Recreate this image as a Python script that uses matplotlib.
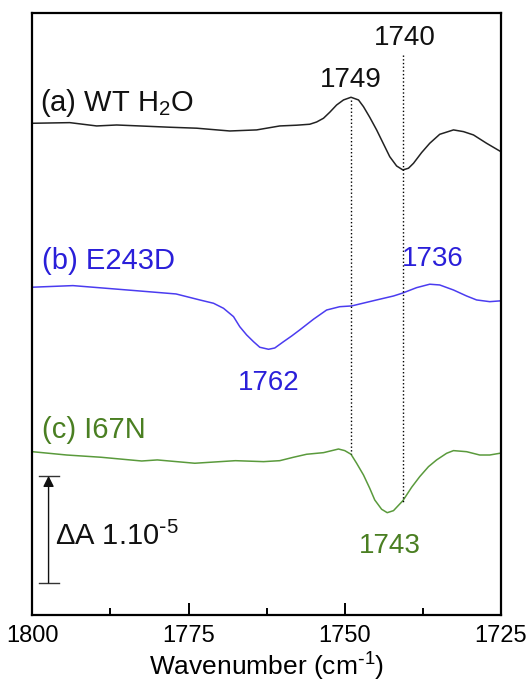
import matplotlib
matplotlib.use("Agg")
import matplotlib.pyplot as plt
import numpy as np

plt.rcParams['font.family'] = ['Liberation Sans', 'DejaVu Sans']
plt.rcParams['mathtext.default'] = 'regular'

# spectra: wavenumber (cm-1) and dA (x1e-6, relative to own baseline)
wn_a = [1800, 1794, 1789.7, 1786.5, 1782.8, 1778, 1773.7, 1768.4, 1764.1, 1760.4, 1757.7,
        1755.6, 1754.5, 1753.4, 1752.4, 1751.3, 1750.2, 1749.0, 1747.8, 1747.0, 1746.0,
        1744.9, 1743.8, 1742.8, 1741.7, 1740.7, 1739.8, 1739.0, 1737.7, 1736.4, 1734.8,
        1732.6, 1731.0, 1729.4, 1727.3, 1725.2]
da_a = [0.45, 0.51, 0.20, 0.29, 0.20, 0.08, -0.01, -0.27, -0.17, 0.20, 0.27,
        0.36, 0.57, 0.92, 1.48, 2.16, 2.63, 2.88, 2.63, 2.00, 1.01,
        -0.17, -1.48, -2.67, -3.54, -3.91, -3.75, -3.29, -2.29, -1.42, -0.58,
        -0.17, -0.33, -0.64, -1.42, -2.14]

wn_b = [1800, 1793.5, 1783.5, 1777, 1773.2, 1771.0, 1769.4, 1767.8, 1766.8, 1765.7,
        1764.6, 1763.6, 1762.2, 1761.2, 1759.8, 1758.5, 1757.2, 1755.0, 1752.9, 1750.8,
        1748.9, 1744.9, 1742.2, 1740.8, 1738.5, 1736.4, 1734.8, 1732.6, 1730.5, 1728.9,
        1726.8, 1725.2]
da_b = [1.13, 1.28, 0.81, 0.50, -0.06, -0.37, -0.84, -1.62, -2.56, -3.33,
        -3.96, -4.48, -4.67, -4.55, -3.96, -3.43, -2.86, -1.86, -1.00, -0.69,
        -0.62, -0.06, 0.31, 0.57, 1.09, 1.41, 1.34, 0.87, 0.31, -0.06,
        -0.22, -0.15]

wn_c = [1800, 1794.5, 1789, 1782.5, 1780, 1774, 1767.5, 1763, 1760.4, 1758.2,
        1756.1, 1753.4, 1751.0, 1750.0, 1749.0, 1748.1, 1747.0, 1746.0, 1745.2, 1744.1,
        1743.2, 1742.2, 1740.7, 1739.3, 1738.0, 1736.6, 1735.3, 1733.7, 1732.6, 1730.5,
        1728.4, 1726.8, 1725.2]
da_c = [0.76, 0.45, 0.24, -0.11, -0.01, -0.32, -0.08, -0.17, -0.08, 0.24,
        0.52, 0.67, 1.01, 0.86, 0.52, -0.32, -1.42, -2.66, -3.75, -4.62,
        -4.94, -4.75, -3.82, -2.57, -1.57, -0.64, -0.01, 0.61, 0.86, 0.76,
        0.45, 0.45, 0.61]

offsets = [45.5, 29.5, 14.5]
labels = ['(a) WT H$_2$O', '(b) E243D', '(c) I67N']
line_colors = ['#222222', '#4b3cf0', '#5a9a3c']
text_colors = ['#111111', '#2a1fd9', '#4a7f22']

fig = plt.figure(figsize=(5.28, 6.84), dpi=100)
ax = fig.add_axes([0.0612, 0.1009, 0.8876, 0.8797])

for wn, da, off, col in zip([wn_a, wn_b, wn_c], [da_a, da_b, da_c], offsets, line_colors):
    ax.plot(wn, np.array(da) + off, color=col, lw=1.1)

# dotted guide lines at 1749 and 1740
ax.plot([1749, 1749], [48.1, 15.0], ls=':', color='k', lw=1.0)
ax.plot([1740.6, 1740.6], [52.3, 10.6], ls=':', color='k', lw=1.0)

# trace labels
ax.text(1798.8, 47.1, labels[0], color=text_colors[0], fontsize=21, va='baseline')
ax.text(1798.4, 32.3, labels[1], color=text_colors[1], fontsize=21, va='baseline')
ax.text(1798.4, 16.5, labels[2], color=text_colors[2], fontsize=21, va='baseline')

# peak labels
ax.text(1749, 49.35, '1749', color=text_colors[0], fontsize=20, ha='center', va='baseline')
ax.text(1740.4, 53.27, '1740', color=text_colors[0], fontsize=20, ha='center', va='baseline')
ax.text(1735.9, 32.65, '1736', color=text_colors[1], fontsize=20, ha='center', va='baseline')
ax.text(1762.2, 21.0, '1762', color=text_colors[1], fontsize=20, ha='center', va='baseline')
ax.text(1742.8, 5.78, '1743', color=text_colors[2], fontsize=20, ha='center', va='baseline')

# scale bar
ax.annotate('', xy=(1797.4, 13.0), xytext=(1797.4, 3.0),
            arrowprops=dict(arrowstyle='-|>', color='#111111', lw=1.0,
                            mutation_scale=16, shrinkA=0, shrinkB=0))
ax.plot([1799.0, 1795.8], [13.0, 13.0], color='#333333', lw=1.0)
ax.plot([1799.0, 1795.8], [3.0, 3.0], color='#333333', lw=1.0)
ax.text(1796.3, 6.5, '$\\Delta$A 1.10$^{\\text{-}5}$', fontsize=21, color='#111111',
        va='baseline')

ax.set_xlim(1800, 1725)
ax.set_ylim(0, 56.23)
ax.set_xticks([1800, 1775, 1750, 1725])
ax.set_xticks([1787.5, 1762.5, 1737.5], minor=True)
ax.set_yticks([])
ax.tick_params(axis='x', which='major', direction='in', length=9, width=1.4,
               labelsize=17, pad=7)
ax.tick_params(axis='x', which='minor', direction='in', length=5, width=1.4)
for s in ax.spines.values():
    s.set_linewidth(1.6)
ax.set_xlabel('Wavenumber (cm$^{\\text{-}1}$)', fontsize=19, labelpad=3)

plt.savefig('out.png', dpi=100)
